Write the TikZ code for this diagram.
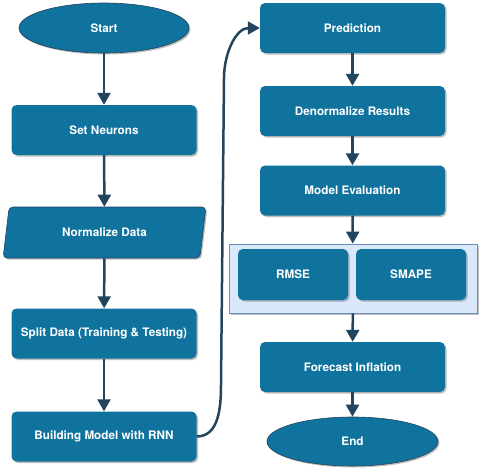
\documentclass[tikz,border=0pt]{standalone}
\usepackage{fontspec}
\setmainfont{TeX Gyre Heros}
\usetikzlibrary{shapes.geometric,arrows.meta,shadows}

\definecolor{boxblue}{HTML}{10739E}
\definecolor{arrowdark}{HTML}{23445D}
\definecolor{groupfill}{HTML}{DAE8FC}
\definecolor{groupline}{HTML}{6C8EBF}

\tikzset{
  boxshadow/.style={drop shadow={shadow xshift=1.5pt, shadow yshift=-1.5pt, opacity=0.25, fill=black}},
  stepbox/.style={rectangle, rounded corners=5pt, fill=boxblue, boxshadow,
    minimum width=185pt, minimum height=50pt, inner sep=0pt,
    text=white, font=\bfseries\fontsize{11.7}{14}\selectfont},
  startend/.style={ellipse, fill=boxblue, draw=arrowdark, line width=0.6pt, boxshadow,
    minimum width=170pt, minimum height=50pt, inner sep=0pt,
    text=white, font=\bfseries\fontsize{11.7}{14}\selectfont},
  databox/.style={trapezium, trapezium left angle=73, trapezium right angle=107,
    trapezium stretches=true, rounded corners=4pt, fill=boxblue, draw=arrowdark,
    line width=0.6pt, boxshadow, minimum width=203pt, minimum height=51pt, inner sep=0pt,
    text=white, font=\bfseries\fontsize{11.7}{14}\selectfont},
  groupbox/.style={rectangle, fill=groupfill, draw=groupline, line width=0.8pt, boxshadow,
    minimum width=248pt, minimum height=69pt, inner sep=0pt},
  flow/.style={draw=arrowdark, line width=2.5pt, -{Triangle[length=12pt, width=13pt]}}
}

\begin{document}
\begin{tikzpicture}[x=1pt, y=-1pt]
  \useasboundingbox (0,0) rectangle (480,471);
  % left column
  \node[startend] (start) at (104,28) {Start};
  \node[stepbox] (neurons) at (104,130) {Set Neurons};
  \node[databox] (norm) at (104.5,232.5) {Normalize Data};
  \node[stepbox] (split) at (104,333.5) {Split Data (Training \& Testing)};
  \node[stepbox] (build) at (104,436.5) {Building Model with RNN};
  % right column
  \node[stepbox] (pred) at (352.5,28) {Prediction};
  \node[stepbox] (denorm) at (352.5,111) {Denormalize Results};
  \node[stepbox] (eval) at (352.5,190.5) {Model Evaluation};
  \node[groupbox] (metrics) at (353,278.5) {};
  \node[stepbox, minimum width=110pt, minimum height=51pt] (rmse) at (293,274.5) {RMSE};
  \node[stepbox, minimum width=110pt, minimum height=51pt] (smape) at (411,274.5) {SMAPE};
  \node[stepbox] (forecast) at (352.5,367) {Forecast Inflation};
  \node[startend, minimum width=171pt, minimum height=49pt] (end) at (352.5,441.5) {End};
  % arrows
  \draw[flow] (start) -- (neurons);
  \draw[flow] (neurons) -- (norm);
  \draw[flow] (norm) -- (split);
  \draw[flow] (split) -- (build);
  \draw[flow] (build.east) to[out=0, in=-90] (221,385) -- (224,78) to[out=90, in=180] (pred.west);
  \draw[flow] (pred) -- (denorm);
  \draw[flow] (denorm) -- (eval);
  \draw[flow] (eval) -- (metrics);
  \draw[flow] (metrics) -- (forecast);
  \draw[flow] (forecast) -- (end);
\end{tikzpicture}
\end{document}
